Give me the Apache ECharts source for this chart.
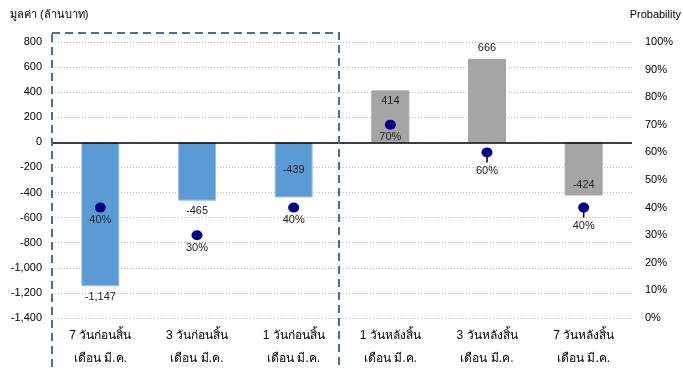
<!DOCTYPE html>
<html>
<head>
<meta charset="utf-8">
<script src="https://cdn.jsdelivr.net/npm/echarts@6/dist/echarts.min.js"></script>
<style>
  html, body { margin: 0; padding: 0; background: #fff; }
  #chart { width: 683px; height: 370px; }
</style>
</head>
<body>
<div id="chart"></div>
<script>
// data
var categories = [
  '7 วันก่อนสิ้น\nเดือน มี.ค.',
  '3 วันก่อนสิ้น\nเดือน มี.ค.',
  '1 วันก่อนสิ้น\nเดือน มี.ค.',
  '1 วันหลังสิ้น\nเดือน มี.ค.',
  '3 วันหลังสิ้น\nเดือน มี.ค.',
  '7 วันหลังสิ้น\nเดือน มี.ค.'
]
var values = [-1147, -465, -439, 414, 666, -424]   // ล้านบาท
var probability = [40, 30, 40, 70, 60, 40]        // %
var valueTicks = [-1400, 800, 200]                 // min, max, step
var probTicks = [0, 100, 10]

// styles (not data)
var barColors = ['#5B9BD5', '#5B9BD5', '#5B9BD5', '#A5A5A5', '#A5A5A5', '#A5A5A5']
var labelPlace = ['bottom', 'bottom', 'inside', 'insideTop', 'top', 'insideBottom']
var hasTail = [false, false, false, false, true, true]

var font = '"Liberation Sans", Arial, "Noto Sans", sans-serif'

function fmt(v) {
  var s = Math.abs(v).toString().replace(/\B(?=(\d{3})+(?!\d))/g, ',')
  return (v < 0 ? '-' : '') + s
}

var chart = echarts.init(document.getElementById('chart'))

chart.setOption({
  animation: false,
  textStyle: { fontFamily: font },
  grid: { left: 52, right: 51, top: 42, bottom: 52 },
  graphic: [{
    type: 'rect',
    silent: true,
    z: 100,
    shape: { x: 52, y: 33, width: 287, height: 400 },
    style: { fill: 'none', stroke: '#41719C', lineWidth: 2, lineDash: [8, 5] }
  }, {
    type: 'text',
    left: 10, top: 9,
    style: { text: 'มูลค่า (ล้านบาท)', fontSize: 11, fill: '#000', fontFamily: font }
  }, {
    type: 'text',
    right: 2, top: 9,
    style: { text: 'Probability', fontSize: 11, fill: '#000', fontFamily: font }
  }],
  xAxis: {
    type: 'category',
    data: categories,
    axisLine: { show: false },
    axisTick: { show: false },
    axisLabel: { color: '#000', fontSize: 12, lineHeight: 23, margin: 6, interval: 0 }
  },
  yAxis: [{
    type: 'value',
    min: valueTicks[0], max: valueTicks[1], interval: valueTicks[2],
    axisLine: { show: false },
    axisTick: { show: false },
    axisLabel: { color: '#000', fontSize: 11, margin: 10, formatter: fmt },
    splitLine: { lineStyle: { color: '#bbb', type: [1, 2], width: 1 } }
  }, {
    type: 'value',
    min: probTicks[0], max: probTicks[1], interval: probTicks[2],
    axisLine: { show: false },
    axisTick: { show: false },
    splitLine: { show: false },
    axisLabel: { color: '#000', fontSize: 11, margin: 13, formatter: '{value}%' }
  }],
  series: [{
    type: 'bar',
    yAxisIndex: 0,
    barWidth: 38,
    data: values.map(function (v, i) {
      return {
        value: v,
        itemStyle: { color: barColors[i], borderColor: i < 3 ? '#9DC3E6' : barColors[i], borderWidth: 1 },
        label: { position: labelPlace[i] }
      }
    }),
    label: {
      show: true,
      color: '#222',
      fontSize: 11,
      distance: 5,
      formatter: function (p) { return fmt(p.value) }
    },
    markLine: {
      silent: true,
      symbol: 'none',
      label: { show: false },
      lineStyle: { color: '#000', type: 'solid', width: 1.5 },
      data: [{ yAxis: 0 }]
    }
  }, {
    type: 'scatter',
    yAxisIndex: 1,
    symbol: 'rect',
    symbolSize: [1.5, 10],
    symbolOffset: [0, 5],
    itemStyle: { color: '#000', opacity: 1 },
    z: 3,
    data: probability.map(function (p, i) { return hasTail[i] ? p : null })
  }, {
    type: 'scatter',
    yAxisIndex: 1,
    symbolSize: [11, 10],
    z: 4,
    itemStyle: { color: '#000080', opacity: 1 },
    data: probability.map(function (p, i) {
      return { value: p, label: { distance: hasTail[i] ? 8 : 2 } }
    }),
    label: {
      show: true,
      position: 'bottom',
      color: '#222',
      fontSize: 11,
      formatter: '{c}%'
    }
  }]
})
</script>
</body>
</html>
